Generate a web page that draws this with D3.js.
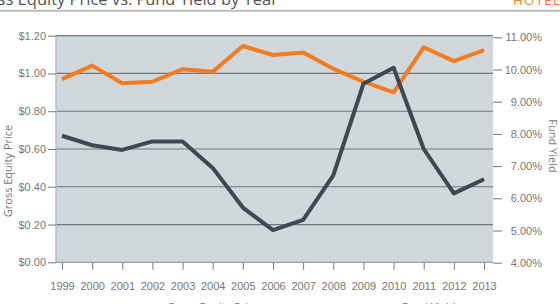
<!DOCTYPE html>
<html>
<head>
<meta charset="utf-8">
<script src="https://cdn.jsdelivr.net/npm/d3@7"></script>
<style>
  body { margin: 0; background: #fff; overflow: hidden; }
  svg { display: block; font-family: "Open Sans", sans-serif; }
  .axis text { fill: #777; font-size: 11px; }
  .axis path { display: none; }
  .axis line { stroke: #777; }
</style>
</head>
<body>
<div id="chart"></div>
<script>
// donnees
const years = ["1999","2000","2001","2002","2003","2004","2005","2006","2007","2008","2009","2010","2011","2012","2013"];
const equityPrice = [0.67, 0.62, 0.595, 0.64, 0.64, 0.50, 0.29, 0.17, 0.225, 0.46, 0.945, 1.03, 0.60, 0.365, 0.44];
const fundYield = [9.70, 10.12, 9.57, 9.62, 10.01, 9.93, 10.73, 10.45, 10.53, 10.02, 9.62, 9.29, 10.69, 10.26, 10.60];
const priceTicks = [0, 0.2, 0.4, 0.6, 0.8, 1.0, 1.2];
const yieldTicks = [4, 5, 6, 7, 8, 9, 10, 11];

const width = 560, height = 304;
const plot = { left: 56, right: 493, top: 35.7, bottom: 262.3 };

const svg = d3.select("#chart")
	.append("svg")
	.attr("width", width)
	.attr("height", height);

/***** titre *****/
svg.append("text")
	.attr("x", 278)
	.attr("y", 5)
	.attr("text-anchor", "end")
	.style("font-size", "16.5px")
	.style("fill", "#555")
	.text("Gross Equity Price vs. Fund Yield by Year");

svg.append("text")
	.attr("x", 513)
	.attr("y", 5)
	.style("font-size", "13px")
	.style("letter-spacing", "1.5px")
	.style("fill", "#f47b20")
	.text("HOTELS");

svg.append("line")
	.attr("x1", 0).attr("x2", width)
	.attr("y1", 10.7).attr("y2", 10.7)
	.style("stroke", "#bdbdbd")
	.style("stroke-width", 2);

/***** echelles *****/
const x = d3.scalePoint()
	.domain(years)
	.range([62, 484]);

const yLeft = d3.scaleLinear()
	.domain([0, 1.2])
	.range([plot.bottom, plot.top]);

const yRight = d3.scaleLinear()
	.domain([4, 11])
	.range([262.7, 37.3]);

// fond du graphique
svg.append("rect")
	.attr("x", plot.left)
	.attr("y", plot.top)
	.attr("width", plot.right - plot.left)
	.attr("height", plot.bottom - plot.top)
	.style("fill", "#d0d8dc");

// lignes de grille
svg.append("g")
	.selectAll("line")
	.data(priceTicks)
	.enter()
	.append("line")
	.attr("x1", plot.left)
	.attr("x2", plot.right)
	.attr("y1", d => yLeft(d))
	.attr("y2", d => yLeft(d))
	.style("stroke", d => d === 0 ? "#9a9fa3" : "#70767b")
	.style("stroke-width", 1.2);

svg.append("line")
	.attr("x1", plot.left).attr("x2", plot.left)
	.attr("y1", plot.top).attr("y2", plot.bottom)
	.style("stroke", "#b9c1c6")
	.style("stroke-width", 1.5);

/***** axes *****/
svg.append("g")
	.attr("class", "axis")
	.attr("transform", "translate(" + plot.left + ",0)")
	.call(d3.axisLeft(yLeft)
		.tickValues(priceTicks)
		.tickSize(8)
		.tickPadding(2)
		.tickFormat(d3.format("$.2f")));

const rightAxis = svg.append("g")
	.attr("class", "axis")
	.attr("transform", "translate(" + plot.right + ",0)")
	.call(d3.axisRight(yRight)
		.tickValues(yieldTicks)
		.tickSize(9)
		.tickPadding(0)
		.tickFormat(d => d3.format(".2f")(d) + "%"));

rightAxis.selectAll("text")
	.attr("x", 49)
	.attr("text-anchor", "end");

svg.append("g")
	.attr("class", "axis")
	.attr("transform", "translate(0," + (plot.bottom + 0.5) + ")")
	.call(d3.axisBottom(x)
		.tickSize(7)
		.tickPadding(12));

// titres des axes
svg.append("text")
	.attr("transform", "translate(12,171) rotate(-90)")
	.attr("text-anchor", "middle")
	.style("font-size", "11px")
	.style("fill", "#777")
	.text("Gross Equity Price");

svg.append("text")
	.attr("transform", "translate(549,146) rotate(90)")
	.attr("text-anchor", "middle")
	.style("font-size", "11px")
	.style("fill", "#777")
	.text("Fund Yield");

/***** courbes *****/
const lineLeft = d3.line()
	.x((d, i) => x(years[i]))
	.y(d => yLeft(d));

const lineRight = d3.line()
	.x((d, i) => x(years[i]))
	.y(d => yRight(d));

svg.append("path")
	.datum(fundYield)
	.attr("d", lineRight)
	.style("fill", "none")
	.style("stroke", "#f47b20")
	.style("stroke-width", 4)
	.style("stroke-linejoin", "round");

svg.append("path")
	.datum(equityPrice)
	.attr("d", lineLeft)
	.style("fill", "none")
	.style("stroke", "#3e4851")
	.style("stroke-width", 4)
	.style("stroke-linejoin", "round");

/***** legende (coupee en bas) *****/
const legend = [
	{ label: "Gross Equity Price", color: "#3e4851", x: 150 },
	{ label: "Fund Yield", color: "#f47b20", x: 385 }
];

const items = svg.append("g")
	.selectAll("g")
	.data(legend)
	.enter()
	.append("g");

items.append("line")
	.attr("x1", d => d.x - 30).attr("x2", d => d.x - 6)
	.attr("y1", 308).attr("y2", 308)
	.style("stroke", d => d.color)
	.style("stroke-width", 4);

items.append("text")
	.attr("x", d => d.x + 17)
	.attr("y", 310.5)
	.style("font-size", "11px")
	.style("fill", "#777")
	.text(d => d.label);
</script>
</body>
</html>
